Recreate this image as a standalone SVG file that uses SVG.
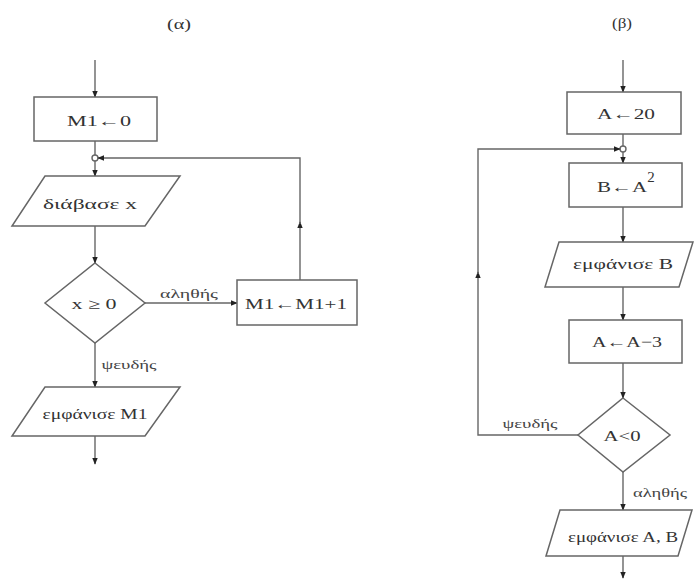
<svg xmlns="http://www.w3.org/2000/svg" width="694" height="580" viewBox="0 0 694 580">
<defs>
<marker id="ah" viewBox="0 0 10 10" refX="9" refY="5" markerWidth="7" markerHeight="7" orient="auto" markerUnits="userSpaceOnUse">
<path d="M0,1 L10,5 L0,9 z" fill="#222"/>
</marker>
<style>
.s{fill:#fff;stroke:#666;stroke-width:1.5}
.c{fill:none;stroke:#666;stroke-width:1.4}
.t{font-size:15px;fill:#333;text-anchor:middle}
.l{font-size:13px;fill:#444;text-anchor:middle}
</style>
</defs>
<rect width="694" height="580" fill="#fff"/>
<g font-family="'Liberation Serif', 'DejaVu Serif', serif">
<text class="t" x="179" y="29" textLength="24" lengthAdjust="spacingAndGlyphs">(α)</text>
<text class="t" x="622" y="28" textLength="20" lengthAdjust="spacingAndGlyphs">(β)</text>

<g id="connectors">
<line class="c" x1="95" y1="60" x2="95" y2="97" marker-end="url(#ah)"/>
<line class="c" x1="95" y1="141" x2="95" y2="155"/>
<circle class="c" cx="95" cy="158" r="3"/>
<line class="c" x1="95" y1="161" x2="95" y2="176" marker-end="url(#ah)"/>
<line class="c" x1="95" y1="226" x2="95" y2="263" marker-end="url(#ah)"/>
<line class="c" x1="145" y1="303" x2="237" y2="303" marker-end="url(#ah)"/>
<line class="c" x1="300" y1="280" x2="300" y2="222" marker-end="url(#ah)"/>
<polyline class="c" points="300,224 300,158 98,158" marker-end="url(#ah)"/>
<line class="c" x1="95" y1="343" x2="95" y2="387" marker-end="url(#ah)"/>
<line class="c" x1="95" y1="436" x2="95" y2="464" marker-end="url(#ah)"/>
<line class="c" x1="623" y1="60" x2="623" y2="92" marker-end="url(#ah)"/>
<line class="c" x1="623" y1="134" x2="623" y2="146"/>
<circle class="c" cx="623" cy="149" r="3"/>
<line class="c" x1="623" y1="152" x2="623" y2="163" marker-end="url(#ah)"/>
<line class="c" x1="623" y1="207" x2="623" y2="242" marker-end="url(#ah)"/>
<line class="c" x1="623" y1="287" x2="623" y2="320" marker-end="url(#ah)"/>
<line class="c" x1="623" y1="363" x2="623" y2="398" marker-end="url(#ah)"/>
<polyline class="c" points="578,435 478,435 478,272" marker-end="url(#ah)"/>
<polyline class="c" points="478,274 478,149 620,149" marker-end="url(#ah)"/>
<line class="c" x1="623" y1="472" x2="623" y2="510" marker-end="url(#ah)"/>
<line class="c" x1="623" y1="556" x2="623" y2="578" marker-end="url(#ah)"/>
<text class="l" x="189" y="298" textLength="58" lengthAdjust="spacingAndGlyphs">αληθής</text>
<text class="l" x="129" y="369" textLength="55" lengthAdjust="spacingAndGlyphs">ψευδής</text>
<text class="l" x="530" y="428" textLength="55" lengthAdjust="spacingAndGlyphs">ψευδής</text>
<text class="l" x="660" y="497" textLength="54" lengthAdjust="spacingAndGlyphs">αληθής</text>
</g>

<g id="m1_init">
<rect class="s" x="34" y="97" width="123" height="44"/>
<text class="t" x="99" y="126" textLength="64" lengthAdjust="spacingAndGlyphs">M1←0</text>
</g>
<g id="read_x">
<polygon class="s" points="45,176 180,176 145,226 12,226"/>
<text class="t" x="90" y="209" textLength="94" lengthAdjust="spacingAndGlyphs">διάβασε x</text>
</g>
<g id="cond_x">
<polygon class="s" points="95,263 145,303 95,343 45,303"/>
<text class="t" x="94" y="309" textLength="45" lengthAdjust="spacingAndGlyphs">x ≥ 0</text>
</g>
<g id="m1_inc">
<rect class="s" x="237" y="280" width="120" height="45"/>
<text class="t" x="296" y="309" textLength="102" lengthAdjust="spacingAndGlyphs">M1←M1+1</text>
</g>
<g id="show_m1">
<polygon class="s" points="45,387 180,387 145,436 12,436"/>
<text class="t" x="95" y="419" textLength="105" lengthAdjust="spacingAndGlyphs">εμφάνισε M1</text>
</g>

<g id="a_init">
<rect class="s" x="567" y="92" width="114" height="42"/>
<text class="t" x="626" y="119" textLength="58" lengthAdjust="spacingAndGlyphs">A←20</text>
</g>
<g id="b_sq">
<rect class="s" x="569" y="163" width="113" height="44"/>
<text class="t" x="622" y="192" textLength="50" lengthAdjust="spacingAndGlyphs">B←A</text>
<text class="t" x="651" y="182" font-size="9">2</text>
</g>
<g id="show_b">
<polygon class="s" points="559,242 693,242 679,287 545,287"/>
<text class="t" x="623" y="269" textLength="100" lengthAdjust="spacingAndGlyphs">εμφάνισε B</text>
</g>
<g id="a_dec">
<rect class="s" x="569" y="320" width="113" height="43"/>
<text class="t" x="627" y="347" textLength="70" lengthAdjust="spacingAndGlyphs">A←A−3</text>
</g>
<g id="cond_a">
<polygon class="s" points="623,398 670,435 623,472 578,435"/>
<text class="t" x="622" y="441" textLength="37" lengthAdjust="spacingAndGlyphs">A&lt;0</text>
</g>
<g id="show_ab">
<polygon class="s" points="560,510 692,510 678,556 546,556"/>
<text class="t" x="623" y="542" textLength="110" lengthAdjust="spacingAndGlyphs">εμφάνισε Α, Β</text>
</g>
</g>
</svg>
